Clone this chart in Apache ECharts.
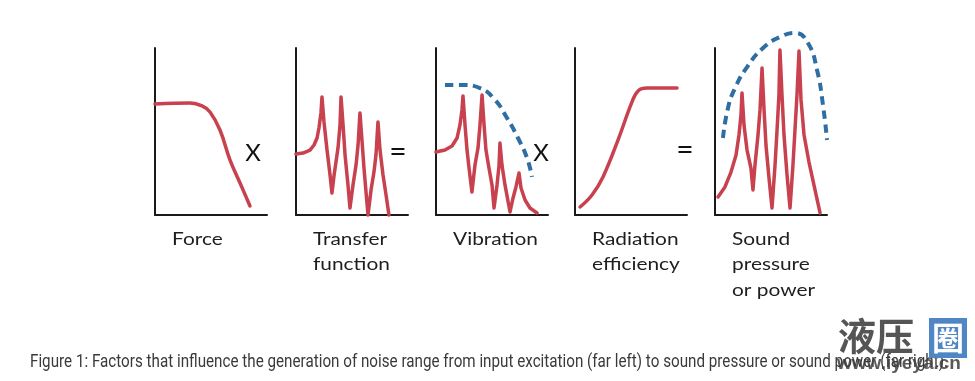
<!DOCTYPE html>
<html>
<head>
<meta charset="utf-8">
<script src="https://cdn.jsdelivr.net/npm/echarts@6/dist/echarts.min.js"></script>
<style>
html,body{margin:0;padding:0;background:#fff;}
#chart{width:975px;height:381px;}
</style>
</head>
<body>
<div id="chart"></div>
<script>
// ---- data (panel units: x 0..100, y 0..100) ----
const forceCurve = [[0,66.5],[31.3,67.1],[42.0,65.3],[49.1,61.7],[58.0,50.9],[67.0,32.9],[75.9,19.2],[84.8,5.4]];
const transferCurve = [[0,36.5],[6.3,37.1],[12.5,38.9],[16.1,41.9],[18.8,46.1],[20.5,52.1],[22.3,61.1],[23.2,70.7],[25.0,55.7],[27.7,38.9],[30.4,24.0],[32.1,13.2],[33.9,23.4],[35.7,31.7],[37.5,40.1],[39.3,53.9],[40.2,70.7],[42.0,53.9],[43.8,35.9],[46.4,18.0],[48.2,4.2],[50.9,18.0],[53.6,29.9],[55.4,41.9],[57.1,61.1],[58.9,44.9],[60.7,28.1],[62.5,13.8],[64.3,0],[67.0,15.0],[69.6,25.7],[71.4,35.9],[73.2,55.7],[75.0,38.9],[77.7,24.0],[80.4,12.0],[83.0,0]];
const vibrationCurve = [[0,37.7],[8.0,38.9],[14.3,41.3],[18.8,46.1],[21.4,53.9],[23.2,62.9],[24.1,71.3],[25.9,53.9],[27.7,38.9],[29.5,28.1],[32.1,13.8],[34.8,29.9],[37.5,40.1],[39.3,53.9],[41.1,71.9],[42.9,53.9],[44.6,38.9],[47.3,28.1],[50.0,18.0],[51.8,4.2],[54.5,18.0],[56.3,29.9],[57.1,43.1],[58.9,29.9],[61.6,18.0],[66.1,1.8],[68.8,10.2],[71.4,16.8],[74.1,25.1],[75.9,16.2],[79.5,9.0],[83.9,4.2],[90.2,1.2]];
const vibrationEnvelope = [[8.0,77.8],[24.1,77.8],[39.3,76.0],[52.7,68.9],[63.4,58.1],[73.2,46.1],[81.3,34.1],[85.7,22.8]];
const radiationCurve = [[4.5,4.8],[15.2,12.0],[25.0,22.8],[38.4,44.9],[50.9,67.7],[56.3,74.3],[64.3,76.0],[91.1,76.0]];
const soundCurve = [[2.7,10.8],[8.9,16.8],[14.3,25.7],[18.8,35.9],[21.4,47.9],[23.2,59.9],[24.1,73.1],[25.9,53.9],[28.6,38.9],[32.1,28.1],[33.9,15.0],[35.7,29.9],[38.4,47.9],[40.2,62.9],[42.0,88.0],[43.8,62.9],[45.5,41.9],[48.2,22.2],[50.9,4.2],[53.6,29.9],[55.4,50.9],[57.1,71.9],[58.0,98.8],[59.8,71.9],[61.6,47.9],[64.3,24.0],[67.0,4.2],[69.6,29.9],[71.4,50.9],[73.2,71.9],[75.0,98.2],[76.8,68.9],[79.5,47.9],[83.9,31.7],[89.3,15.0],[93.8,1.2]];
const soundEnvelope = [[7.1,46.1],[11.6,64.1],[17.9,76.0],[28.6,88.6],[42.9,100],[58.0,106.6],[71.4,109.0],[83.0,103.0],[91.1,86.8],[96.4,65.9],[100,44.9]];
const panelLabels = ['Force','Transfer\nfunction','Vibration','Radiation\nefficiency','Sound\npressure\nor power'];
const operators = ['X','=','X','='];
const caption = 'Figure 1: Factors that influence the generation of noise range from input excitation (far left) to sound pressure or sound power (far right).';

// ---- layout ----
const panelLeft = [155, 296, 436, 575, 715];
const panelTop = 48, panelW = 112, panelH = 167;
const RED = '#c8414f', BLUE = '#2f6ea3', AXIS = '#1a1a1a';

const chart = echarts.init(document.getElementById('chart'));

const grids = [], xAxes = [], yAxes = [];
panelLeft.forEach((l, i) => {
  grids.push({left: l, top: panelTop, width: panelW, height: panelH});
  const ax = {gridIndex: i, type: 'value', min: 0, max: 100,
    axisLine: {show: true, onZero: false, lineStyle: {color: AXIS, width: 2}},
    axisTick: {show: false}, axisLabel: {show: false}, splitLine: {show: false}};
  xAxes.push(Object.assign({}, ax));
  yAxes.push(Object.assign({}, ax));
});

function redLine(idx, data, smooth) {
  return {type: 'line', xAxisIndex: idx, yAxisIndex: idx, data: data, smooth: smooth,
    symbol: 'none', clip: false, silent: true,
    lineStyle: {color: RED, width: 3.5, cap: 'round', join: 'round'}};
}
function blueLine(idx, data) {
  return {type: 'line', xAxisIndex: idx, yAxisIndex: idx, data: data, smooth: 0.5,
    symbol: 'none', clip: false, silent: true,
    lineStyle: {color: BLUE, width: 4, type: [8.5, 5.5], cap: 'butt'}};
}

const series = [
  redLine(0, forceCurve, 0.4),
  redLine(1, transferCurve, false),
  blueLine(2, vibrationEnvelope),
  redLine(2, vibrationCurve, false),
  redLine(3, radiationCurve, 0.4),
  blueLine(4, soundEnvelope),
  redLine(4, soundCurve, false)
];

const LABEL_FONT = 'Lato, "DejaVu Sans", sans-serif';
const graphics = [];
panelLabels.forEach((t, i) => {
  graphics.push({type: 'text', x: panelLeft[i] + 17, y: 226, scaleX: 1.16,
    style: {text: t, font: '18px ' + LABEL_FONT, fill: '#1e1e1e', lineHeight: 25.5, verticalAlign: 'top'}});
});
const opPos = [[253,153],[398,152],[541,153],[685,150]];
operators.forEach((t, i) => {
  graphics.push({type: 'text', x: opPos[i][0], y: opPos[i][1],
    style: {text: t, font: (t === 'X' ? '24px ' : '30px ') + LABEL_FONT, fill: '#111', align: 'center', verticalAlign: 'middle'}});
});

// caption, condensed to fit its width
const CAP_FONT = '18px Roboto, sans-serif';
const ctx = document.createElement('canvas').getContext('2d');
ctx.font = CAP_FONT;
const capW = ctx.measureText(caption).width;
graphics.push({type: 'text', x: 30, y: 362, scaleX: 918 / capW,
  style: {text: caption, font: CAP_FONT, fill: '#3a3a3a', verticalAlign: 'middle'}});

// watermark
graphics.push({type: 'text', x: 838, y: 336,
  style: {text: '液压', font: 'bold 38px "Noto Sans CJK SC"', fill: '#555', verticalAlign: 'middle'}});
graphics.push({type: 'rect', shape: {x: 929, y: 318, width: 38, height: 40}, style: {fill: '#4f86c6'}});
graphics.push({type: 'text', x: 948, y: 338,
  style: {text: '圈', font: 'bold 32px "Noto Sans CJK SC"', fill: '#fff', align: 'center', verticalAlign: 'middle'}});
graphics.push({type: 'text', x: 837, y: 364,
  style: {text: 'www.iyeya.cn', font: 'bold 19px "Liberation Sans", sans-serif', fill: 'rgba(60,60,60,0.85)', verticalAlign: 'middle'}});

chart.setOption({
  animation: false,
  backgroundColor: '#fff',
  grid: grids, xAxis: xAxes, yAxis: yAxes,
  series: series,
  graphic: graphics
});
</script>
</body>
</html>
